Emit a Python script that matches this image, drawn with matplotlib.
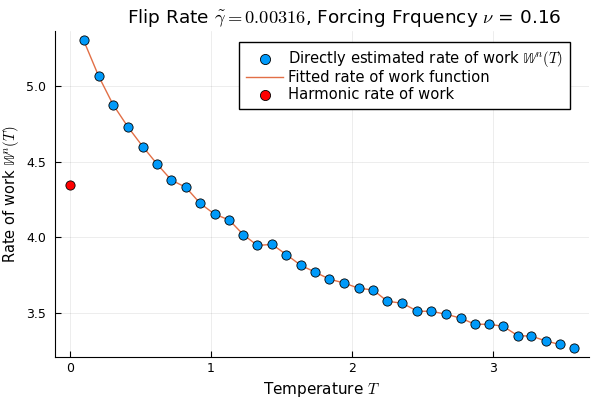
import numpy as np
import matplotlib
matplotlib.use("Agg")
import matplotlib.pyplot as plt

# temperatures and directly estimated rate of work
temperature = [0.099, 0.206, 0.307, 0.411, 0.518, 0.617, 0.720, 0.823, 0.924, 1.026,
               1.130, 1.231, 1.330, 1.433, 1.534, 1.638, 1.740, 1.840, 1.943, 2.047,
               2.149, 2.250, 2.357, 2.463, 2.562, 2.667, 2.773, 2.870, 2.970, 3.070,
               3.175, 3.270, 3.375, 3.470, 3.575]
work_rate = [5.302, 5.064, 4.878, 4.732, 4.600, 4.487, 4.379, 4.331, 4.225, 4.154,
             4.115, 4.017, 3.947, 3.954, 3.887, 3.815, 3.770, 3.724, 3.699, 3.664,
             3.653, 3.578, 3.565, 3.512, 3.512, 3.492, 3.466, 3.426, 3.426, 3.413,
             3.350, 3.348, 3.315, 3.293, 3.272]
# fitted curve shown over all but the last temperature
fit_T = temperature[:-1]
fit_W = work_rate[:-1]
harmonic_T = [0.0]
harmonic_W = [4.344]

plt.rcParams["mathtext.fontset"] = "cm"
plt.rcParams["font.family"] = "DejaVu Sans"

fig = plt.figure(figsize=(6, 4), dpi=100)
ax = fig.add_axes([0.091, 0.108, 0.891, 0.814])

ax.plot(fit_T, fit_W, color="#e26f46", lw=1.0, zorder=2, label="Fitted rate of work function")
ax.scatter(temperature, work_rate, s=44, color="#009afa", edgecolors="black", linewidths=0.6,
           zorder=3, label=r"Directly estimated rate of work $\mathbb{W}^n(T)$")
ax.scatter(harmonic_T, harmonic_W, s=44, color="red", edgecolors="black", linewidths=0.6,
           zorder=3, label="Harmonic rate of work")

ax.set_xlim(-0.107, 3.68)
ax.set_ylim(3.211, 5.363)
ax.set_xticks([0, 1, 2, 3])
ax.set_yticks([3.5, 4.0, 4.5, 5.0])
ax.grid(True, color="black", alpha=0.1, lw=0.5)
ax.set_axisbelow(True)
for s in ["top", "right"]:
    ax.spines[s].set_visible(False)
ax.tick_params(direction="in", length=4, width=0.8, labelsize=9)
ax.tick_params(axis="y", pad=6)

ax.set_xlabel("Temperature $T$", fontsize=11)
ax.set_ylabel(r"Rate of work $\mathbb{W}^n(T)$", fontsize=10.5)
ax.set_title(r"Flip Rate $\tilde{\gamma} = 0.00316$, Forcing Frquency $\nu$ = 0.16",
             fontsize=13.3, x=0.541)

h, l = ax.get_legend_handles_labels()
order = [1, 0, 2]
ax.legend([h[i] for i in order], [l[i] for i in order], loc="upper right", fontsize=10.6,
          fancybox=False, edgecolor="black", framealpha=1, borderpad=0.5,
          labelspacing=0.1, handlelength=2.5, handletextpad=0.3, markerscale=1.1,
          borderaxespad=0, bbox_to_anchor=(0.9645, 0.968))

fig.savefig("out.png")
